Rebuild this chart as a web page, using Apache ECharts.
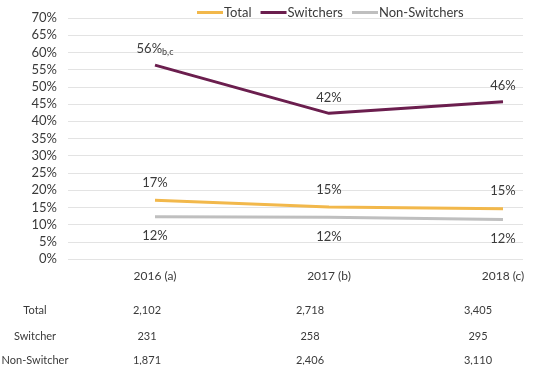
<!DOCTYPE html>
<html><head><meta charset="utf-8">
<script src="https://cdn.jsdelivr.net/npm/echarts@6/dist/echarts.min.js"></script>
<style>html,body{margin:0;padding:0;background:#fff}#c{width:542px;height:365px}</style>
</head><body><div id="c"></div>
<script>
const categories = ['2016 (a)', '2017 (b)', '2018 (c)'];
const totalPct = [17.1, 15.1, 14.6];
const switcherPct = [56.3, 42.3, 45.7];
const nonSwitcherPct = [12.3, 12.1, 11.5];
const switcherNotes = ['b,c', '', ''];
const yTicks = [0, 5, 10, 15, 20, 25, 30, 35, 40, 45, 50, 55, 60, 65, 70];
const tableRows = ['Total', 'Switcher', 'Non-Switcher'];
const totalN = ['2,102', '2,718', '3,405'];
const switcherN = ['231', '258', '295'];
const nonSwitcherN = ['1,871', '2,406', '3,110'];

const FONT = 'Lato';
const TXT = '#3A3A3A';
const chart = echarts.init(document.getElementById('c'));
const pts = arr => arr.map((v, i) => [i, v]);
const pctLabel = p => Math.round(p.value[1]) + '%';

const tableCols = [147, 310, 478];
const tableY = [310, 336, 360];
const tableData = [totalN, switcherN, nonSwitcherN];
const graphics = [];
tableRows.forEach((r, ri) => {
  graphics.push({type: 'text', x: 35, y: tableY[ri],
    style: {text: r, fill: TXT, font: '11px ' + FONT, textAlign: 'center', textVerticalAlign: 'middle'}});
  tableData[ri].forEach((v, ci) => {
    graphics.push({type: 'text', x: tableCols[ci], y: tableY[ri],
      style: {text: v, fill: TXT, font: '11px ' + FONT, textAlign: 'center', textVerticalAlign: 'middle'}});
  });
});

chart.setOption({
  animation: false,
  textStyle: {fontFamily: FONT},
  legend: {
    top: 1, left: 192, icon: 'rect', itemWidth: 26, itemHeight: 3, itemGap: 9,
    textStyle: {fontSize: 13, color: TXT, fontFamily: FONT, padding: [0, 0, 0, -4]},
    data: ['Total', 'Switchers', 'Non-Switchers']
  },
  grid: {left: 68, right: 19, top: 18, bottom: 106, containLabel: false},
  xAxis: {
    type: 'value', min: -0.5, max: 2.115,
    axisLine: {show: false}, axisTick: {show: false}, splitLine: {show: false},
    axisLabel: {customValues: [0, 1, 2], formatter: v => categories[Math.round(v)] || '',
      color: TXT, fontSize: 12, margin: 11, fontFamily: FONT}
  },
  yAxis: {
    type: 'value', min: 0, max: 70, interval: 5,
    axisLine: {show: false}, axisTick: {show: false},
    splitLine: {lineStyle: {color: '#E3E3E3', width: 1}},
    axisLabel: {formatter: v => yTicks.includes(v) ? v + '%' : '', color: TXT, fontSize: 13, margin: 11, fontFamily: FONT}
  },
  series: [
    {name: 'Total', type: 'line', data: pts(totalPct), symbol: 'circle', symbolSize: 0.1,
     lineStyle: {color: '#F2B84B', width: 3}, itemStyle: {color: '#F2B84B'},
     label: {show: true, position: 'top', distance: 11, formatter: pctLabel, color: TXT, fontSize: 13}},
    {name: 'Switchers', type: 'line', data: pts(switcherPct), symbol: 'circle', symbolSize: 0.1,
     lineStyle: {color: '#6B1E4E', width: 3}, itemStyle: {color: '#6B1E4E'},
     label: {show: true, position: 'top', distance: 9, color: TXT, fontSize: 13,
       formatter: p => Math.round(p.value[1]) + '%' + (switcherNotes[p.dataIndex] ? '{sub|' + switcherNotes[p.dataIndex] + '}' : ''),
       rich: {sub: {fontSize: 9, color: TXT, verticalAlign: 'bottom', padding: [6, 0, 0, 0]}}}},
    {name: 'Non-Switchers', type: 'line', data: pts(nonSwitcherPct), symbol: 'circle', symbolSize: 0.1,
     lineStyle: {color: '#BFBFBF', width: 3}, itemStyle: {color: '#BFBFBF'},
     label: {show: true, position: 'bottom', distance: 13, formatter: pctLabel, color: TXT, fontSize: 13}}
  ],
  graphic: graphics
});
</script></body></html>
